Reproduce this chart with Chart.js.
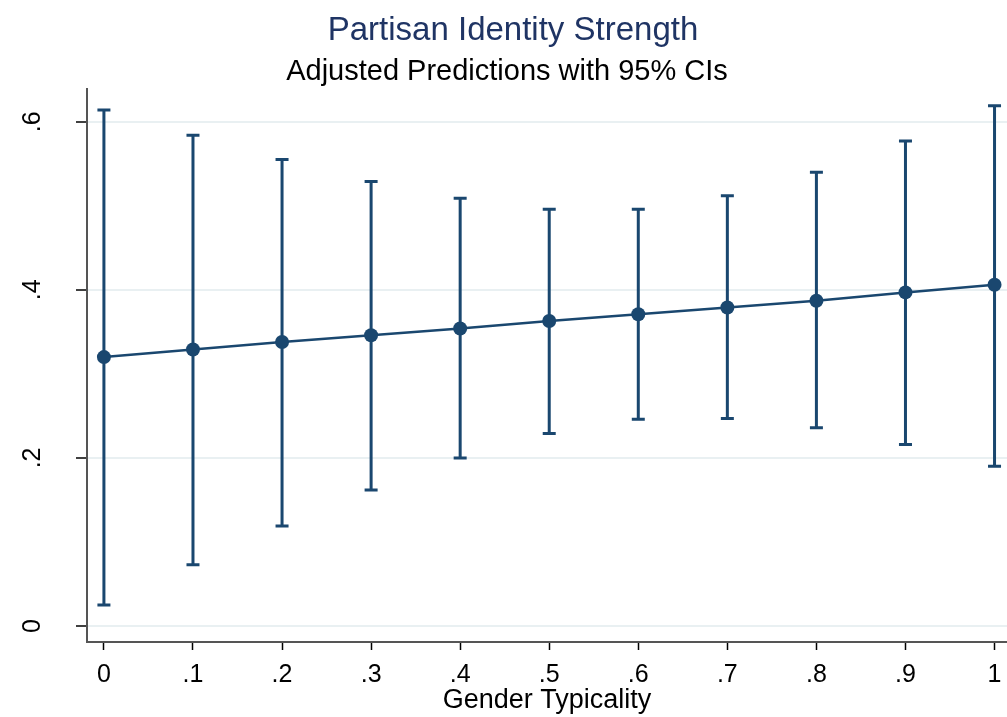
<!DOCTYPE html>
<html>
<head>
<meta charset="utf-8">
<script src="https://cdn.jsdelivr.net/npm/chart.js@4.4.1/dist/chart.umd.min.js"></script>
<style>
  html, body { margin: 0; padding: 0; background: #fff; }
  #wrap { width: 1007px; height: 717px; position: relative; }
</style>
</head>
<body>
<div id="wrap"><canvas id="margins"></canvas></div>
<script>
// margins at each level of gender typicality
var typicality = [0, 0.1, 0.2, 0.3, 0.4, 0.5, 0.6, 0.7, 0.8, 0.9, 1];
var prediction = [0.320, 0.329, 0.338, 0.346, 0.354, 0.363, 0.371, 0.379, 0.387, 0.397, 0.406];
var ciLower = [0.025, 0.073, 0.119, 0.162, 0.200, 0.229, 0.246, 0.247, 0.236, 0.216, 0.190];
var ciUpper = [0.614, 0.584, 0.555, 0.529, 0.509, 0.496, 0.496, 0.512, 0.540, 0.577, 0.619];

var xTicks = [0, 0.1, 0.2, 0.3, 0.4, 0.5, 0.6, 0.7, 0.8, 0.9, 1];
var xTickLabels = ['0', '.1', '.2', '.3', '.4', '.5', '.6', '.7', '.8', '.9', '1'];
var yTicks = [0, 0.2, 0.4, 0.6];
var yTickLabels = ['0', '.2', '.4', '.6'];

var navy = '#1a476f';
Chart.defaults.font.family = '"Liberation Sans", Arial, sans-serif';

// vertical CI spikes with caps, drawn under the line
var ciBars = {
  id: 'ciBars',
  beforeDatasetsDraw: function(chart) {
    var ctx = chart.ctx, xs = chart.scales.x, ys = chart.scales.y;
    ctx.save();
    ctx.strokeStyle = navy;
    ctx.lineWidth = 3;
    typicality.forEach(function(t, i) {
      var px = xs.getPixelForValue(t);
      var top = ys.getPixelForValue(ciUpper[i]);
      var bot = ys.getPixelForValue(ciLower[i]);
      ctx.beginPath();
      ctx.moveTo(px, top); ctx.lineTo(px, bot);
      ctx.moveTo(px - 6.5, top); ctx.lineTo(px + 6.5, top);
      ctx.moveTo(px - 6.5, bot); ctx.lineTo(px + 6.5, bot);
      ctx.stroke();
    });
    ctx.restore();
  }
};

// title and subtitle
var headings = {
  id: 'headings',
  afterDraw: function(chart) {
    var ctx = chart.ctx;
    ctx.save();
    ctx.textAlign = 'center';
    ctx.textBaseline = 'alphabetic';
    ctx.fillStyle = '#1f3464';
    ctx.font = '33px "Liberation Sans", Arial, sans-serif';
    ctx.fillText('Partisan Identity Strength', 513, 40);
    ctx.fillStyle = '#000';
    ctx.font = '29px "Liberation Sans", Arial, sans-serif';
    ctx.fillText('Adjusted Predictions with 95% CIs', 507, 80);
    ctx.restore();
  }
};

new Chart(document.getElementById('margins'), {
  type: 'line',
  data: {
    datasets: [{
      data: typicality.map(function(t, i) { return { x: t, y: prediction[i] }; }),
      borderColor: navy,
      borderWidth: 2.5,
      backgroundColor: navy,
      pointRadius: 7,
      pointBorderWidth: 0,
      pointBackgroundColor: navy,
      tension: 0
    }]
  },
  options: {
    responsive: true,
    maintainAspectRatio: false,
    animation: false,
    layout: { padding: { left: 0, top: 89, right: 0, bottom: 0 }, autoPadding: false },
    plugins: { legend: { display: false }, tooltip: { enabled: false } },
    scales: {
      x: {
        type: 'linear',
        min: -0.019,
        max: 1.014,
        afterBuildTicks: function(s) { s.ticks = xTicks.map(function(v) { return { value: v }; }); },
        afterFit: function(s) {
          s.height = 75;
          s.paddingLeft = 0;
          s.paddingRight = 0;
        },
        ticks: {
          callback: function(v, i) { return xTickLabels[i]; },
          font: { size: 25 },
          color: '#000',
          padding: 10,
          autoSkip: false,
          maxRotation: 0
        },
        grid: { drawOnChartArea: false, tickLength: 8, tickColor: '#000', tickWidth: 1.5 },
        border: { color: '#555', width: 2 },
        title: {
          display: true,
          text: 'Gender Typicality',
          font: { size: 27 },
          color: '#000',
          padding: { top: 0, bottom: 0 }
        }
      },
      y: {
        min: -0.019,
        max: 0.639,
        afterBuildTicks: function(s) { s.ticks = yTicks.map(function(v) { return { value: v }; }); },
        afterFit: function(s) {
          s.width = 87;
          s.paddingTop = 0;
          s.paddingBottom = 0;
        },
        ticks: {
          callback: function(v, i) { return yTickLabels[i]; },
          font: { size: 25 },
          color: '#000',
          minRotation: 90,
          maxRotation: 90,
          crossAlign: 'center',
          padding: 32
        },
        grid: { color: '#e9f0f2', lineWidth: 2, tickLength: 11, tickColor: '#000', tickWidth: 1.5 },
        border: { color: '#555', width: 2 }
      }
    }
  },
  plugins: [ciBars, headings]
});
</script>
</body>
</html>
